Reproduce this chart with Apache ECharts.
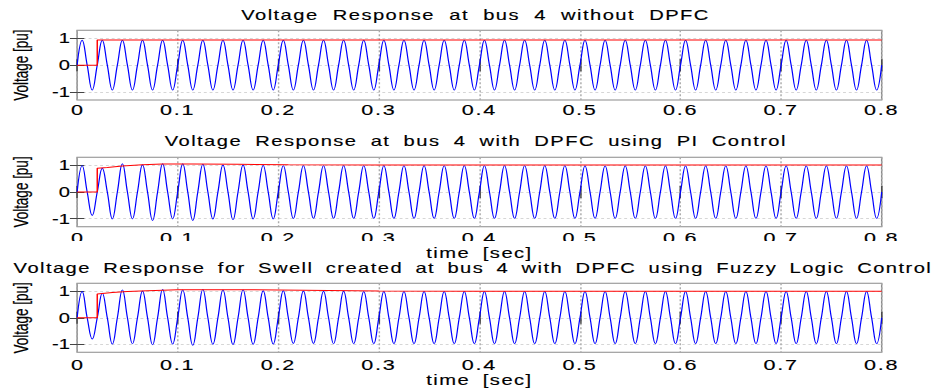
<!DOCTYPE html>
<html><head><meta charset="utf-8">
<script src="https://cdn.jsdelivr.net/npm/echarts@6/dist/echarts.min.js"></script>
<style>
html,body{margin:0;padding:0;background:#fff;overflow:hidden;}
#wrap{width:943px;height:389px;overflow:hidden;}
#chart{width:655px;height:389px;transform:scaleX(1.439695);transform-origin:0 0;}
</style></head><body><div id="wrap"><div id="chart"></div></div>
<script>
// ---------- data ----------
const titles = [
  'Voltage Response at bus 4 without DPFC',
  'Voltage Response at bus 4 with DPFC using PI Control',
  'Voltage Response for Swell created at bus 4 with DPFC using Fuzzy Logic Control'
];
const yName = 'Voltage [pu]';
const xName = 'time [sec]';
const xTickLabels = ['0','0.1','0.2','0.3','0.4','0.5','0.6','0.7','0.8'];
const yTicks = [-1, 0, 1];
const halfPeriod = 0.01; // 50 Hz signal: one extreme every 10 ms

// extreme value of every half cycle (peak / trough)
const blueTop = [
 0.93,-0.93,0.93,-0.93,0.93,-0.93,0.93,-0.93,0.93,-0.93,
 0.93,-0.93,0.93,-0.93,0.93,-0.93,0.93,-0.93,0.93,-0.93,
 0.93,-0.93,0.93,-0.93,0.93,-0.93,0.93,-0.93,0.93,-0.93,
 0.93,-0.93,0.93,-0.93,0.93,-0.93,0.93,-0.93,0.93,-0.93,
 0.93,-0.93,0.93,-0.93,0.93,-0.93,0.93,-0.93,0.93,-0.93,
 0.93,-0.93,0.93,-0.93,0.93,-0.93,0.93,-0.93,0.93,-0.93,
 0.93,-0.93,0.93,-0.93,0.93,-0.93,0.93,-0.93,0.93,-0.93,
 0.93,-0.93,0.93,-0.93,0.93,-0.93,0.93,-0.93,0.93,-0.93
];
const blueMid = [
 0.99,-0.88,0.89,-1.01,1.06,-1.01,1.02,-1.07,1.06,-1.01,
 1.06,-1.07,1.04,-1.01,1.01,-1.04,1.01,-1.01,1.00,-1.01,
 0.99,-1.00,0.99,-0.99,0.99,-0.99,0.99,-0.99,0.99,-0.99,
 0.99,-0.99,0.99,-0.99,0.99,-0.99,0.99,-0.99,0.99,-0.99,
 0.99,-0.99,0.99,-0.99,0.99,-0.99,0.99,-0.99,0.99,-0.99,
 0.98,-0.99,0.98,-0.99,0.98,-0.99,0.98,-0.99,0.98,-0.99,
 0.98,-0.99,0.98,-0.99,0.98,-0.99,0.98,-0.99,0.98,-0.99,
 0.98,-0.99,0.98,-0.99,0.98,-0.99,0.98,-0.99,0.98,-0.99
];
const blueBot = [
 0.99,-0.80,0.93,-0.99,1.05,-0.98,1.01,-1.02,1.07,-0.99,
 1.05,-1.04,1.07,-1.00,1.05,-1.01,1.05,-1.00,1.02,-0.99,
 1.02,-0.97,1.01,-0.97,1.00,-0.98,1.00,-0.98,0.99,-0.98,
 0.99,-0.98,0.99,-0.98,0.99,-0.98,0.99,-0.98,0.99,-0.98,
 0.99,-0.98,0.99,-0.98,0.99,-0.98,0.99,-0.98,0.99,-0.98,
 0.99,-0.98,0.99,-0.98,0.99,-0.98,0.99,-0.98,0.99,-0.98,
 0.99,-0.98,0.99,-0.98,0.99,-0.98,0.99,-0.98,0.99,-0.98,
 0.99,-0.98,0.99,-0.98,0.99,-0.98,0.99,-0.98,0.99,-0.98
];
// red RMS traces (time, value)
const redTopT = [0, 0.02, 0.02, 0.8];
const redTopV = [0, 0, 0.94, 0.94];
const redMidT = [0, 0.02, 0.02, 0.03, 0.045, 0.065, 0.085, 0.115, 0.16, 0.21, 0.3, 0.5, 0.8];
const redMidV = [0, 0, 0.89, 0.92, 0.97, 1.02, 1.05, 1.05, 1.04, 1.02, 1.01, 1.01, 1.01];
const redBotT = [0, 0.02, 0.02, 0.035, 0.05, 0.07, 0.1, 0.15, 0.2, 0.25, 0.3, 0.4, 0.8];
const redBotV = [0, 0, 0.90, 0.95, 0.99, 1.02, 1.06, 1.06, 1.05, 1.03, 1.01, 1.00, 1.00];

// ---------- build ----------
function wave(peaks) {
  const pts = [[0, 0]];
  peaks.forEach((p, k) => {
    pts.push([k * halfPeriod + halfPeriod / 2, p]);
    pts.push([(k + 1) * halfPeriod, 0]);
  });
  return pts;
}
function pairs(t, v) { return t.map((x, i) => [x, v[i]]); }

const FONT = '"Liberation Sans", Arial, Helvetica, sans-serif';
const TB = { textBorderColor: '#000', textBorderWidth: 0.15 };
const panels = [
  { top: 30.3, height: 69.7, blue: blueTop, red: pairs(redTopT, redTopV), title: titles[0], titleX: 330.3, titleY: 8, xname: false, lblMargin: 2.5 },
  { top: 157.3, height: 69.4, blue: blueMid, red: pairs(redMidT, redMidV), title: titles[1], titleX: 330.5, titleY: 134.3, xname: true, lblMargin: 3.5 },
  { top: 283.3, height: 69.0, blue: blueBot, red: pairs(redBotT, redBotV), title: titles[2], titleX: 328.5, titleY: 261, xname: true, lblMargin: 4.5 }
];
const GL = 49.1, GW = 563.3;

const grid = [], xAxis = [], yAxis = [], series = [], title = [];
panels.forEach((p, i) => {
  grid.push({ left: GL, width: GW, top: p.top, height: p.height, show: true, borderColor: '#8a8a8a', borderWidth: 1, backgroundColor: '#fff' });
  title.push({ text: p.title, left: p.titleX, top: p.titleY, textAlign: 'center', padding: 0,
    textStyle: Object.assign({ fontFamily: FONT, fontSize: 14, fontWeight: 'normal', color: '#000' }, TB) });
  const tickStyle = { color: '#444', width: 1 };
  xAxis.push({
    gridIndex: i, type: 'value', min: 0, max: 0.8, interval: 0.1, position: 'bottom',
    axisLine: { show: false },
    axisTick: { inside: true, length: 6, lineStyle: tickStyle },
    axisLabel: Object.assign({ margin: p.lblMargin, fontFamily: FONT, fontSize: 15, color: '#000',
      formatter: v => xTickLabels[Math.round(v * 10)] }, TB),
    splitLine: { show: true, lineStyle: { color: '#aaa', width: 1, type: [2, 2] } },
    name: p.xname ? xName : '', nameLocation: 'middle', nameGap: 19.5,
    nameTextStyle: Object.assign({ fontFamily: FONT, fontSize: 14, color: '#000' }, TB)
  });
  xAxis.push({
    gridIndex: i, type: 'value', min: 0, max: 0.8, interval: 0.1, position: 'top',
    axisLine: { show: false }, axisTick: { inside: true, length: 6, lineStyle: tickStyle },
    axisLabel: { show: false }, splitLine: { show: false }
  });
  yAxis.push({
    gridIndex: i, type: 'value', min: -1.3, max: 1.3, position: 'left',
    axisLine: { show: false },
    axisTick: { inside: true, length: 5, lineStyle: tickStyle, customValues: yTicks },
    axisLabel: Object.assign({ margin: 5, fontFamily: FONT, fontSize: 14, color: '#000', customValues: yTicks }, TB),
    splitLine: { show: true, lineStyle: { color: '#d6d6d6', width: 1, type: [2, 2] } },
    name: yName, nameLocation: 'middle', nameRotate: 90, nameGap: 31.5,
    nameTextStyle: Object.assign({ fontFamily: FONT, fontSize: 13.5, color: '#000' }, TB)
  });
  yAxis.push({
    gridIndex: i, type: 'value', min: -1.3, max: 1.3, position: 'right',
    axisLine: { show: false },
    axisTick: { inside: true, length: 5, lineStyle: tickStyle, customValues: yTicks },
    axisLabel: { show: false, customValues: yTicks }, splitLine: { show: false }
  });
  series.push({
    type: 'line', xAxisIndex: 2 * i, yAxisIndex: 2 * i, data: wave(p.blue),
    showSymbol: false, smooth: 0.45, z: 3, lineStyle: { color: '#0000ff', width: 0.85 }
  });
  series.push({
    type: 'line', xAxisIndex: 2 * i, yAxisIndex: 2 * i, data: p.red,
    showSymbol: false, smooth: false, z: 4, lineStyle: { color: '#ff0000', width: 1 }
  });
});

const chart = echarts.init(document.getElementById('chart'), null, { renderer: 'svg' });
chart.setOption({
  animation: false,
  backgroundColor: '#fff',
  title, grid, xAxis, yAxis, series,
  graphic: [{ type: 'rect', shape: { x: 0, y: 241, width: 655, height: 5 }, style: { fill: '#fff' }, z: 100 }]
});
// text spacing (letter / word) per text, to match the wide spacing of the original
const spacing = {};
spacing[titles[0]] = ['1px', '5px'];
spacing[titles[1]] = ['1px', '4.3px'];
spacing[titles[2]] = ['1px', '3.7px'];
spacing[xName] = ['1px', '4px'];
function spaceText() {
  document.querySelectorAll('#chart text').forEach(t => {
    const s = t.textContent;
    if (spacing[s]) { t.style.letterSpacing = spacing[s][0]; t.style.wordSpacing = spacing[s][1]; }
    else if (xTickLabels.indexOf(s) > 0) { t.style.letterSpacing = '1.2px'; }
  });
}
spaceText();
chart.on('finished', spaceText);
</script></body></html>
